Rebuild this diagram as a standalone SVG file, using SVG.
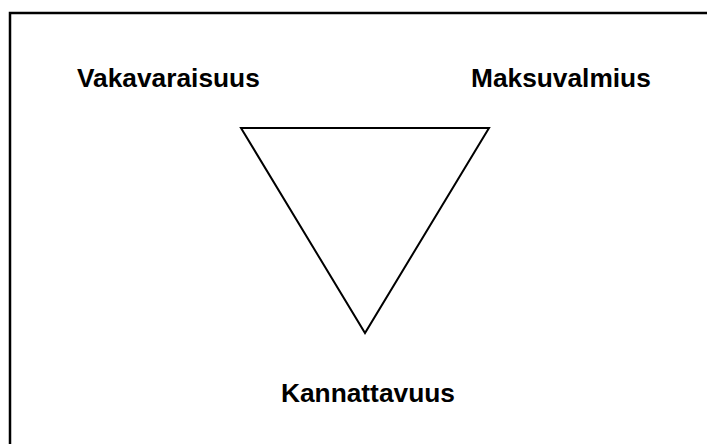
<svg xmlns="http://www.w3.org/2000/svg" width="707" height="444" viewBox="0 0 707 444">
<style>
.lbl{font-family:"Liberation Sans",Arial,sans-serif;font-weight:bold;font-size:26.3px;fill:#000}
.frame{fill:none;stroke:#000;stroke-width:2.5}
.tri{fill:#fff;stroke:#000;stroke-width:2}
</style>
<rect width="707" height="444" fill="#fff"/>
<rect class="frame" x="10" y="13" width="720" height="460"/>
<g id="triangle"><polygon class="tri" points="241,128 489,128 365,333"/></g>
<g id="vakavaraisuus"><text class="lbl" x="77" y="87">Vakavaraisuus</text></g>
<g id="maksuvalmius"><text class="lbl" x="471" y="87">Maksuvalmius</text></g>
<g id="kannattavuus"><text class="lbl" x="281" y="402">Kannattavuus</text></g>
<g id="connectors"></g>
</svg>
